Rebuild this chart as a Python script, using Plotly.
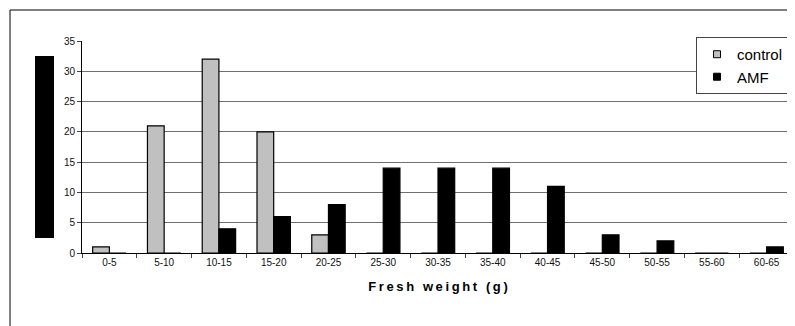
import plotly.graph_objects as go

categories = ["0-5", "5-10", "10-15", "15-20", "20-25", "25-30", "30-35",
              "35-40", "40-45", "45-50", "50-55", "55-60", "60-65"]
control = [1, 21, 32, 20, 3, 0, 0, 0, 0, 0, 0, 0, 0]
amf = [0, 0, 4, 6, 8, 14, 14, 14, 11, 3, 2, 0, 1]
y_ticks = [0, 5, 10, 15, 20, 25, 30, 35]
x_title = "Fresh weight (g)"

FONT = "Liberation Sans, Arial, sans-serif"
THIN = "\u2009"
spaced_title = THIN.join(list(x_title))

series = [("control", control, "#C0C0C0"), ("AMF", amf, "#000000")]

fig = go.Figure()
for name, vals, col in series:
    fig.add_trace(go.Bar(x=categories, y=vals, name=name, legendgroup=name, showlegend=False,
                         marker=dict(color=col, line=dict(color="#000000", width=1.2))))
for name, vals, col in series:
    # legend key only (small square like the original)
    fig.add_trace(go.Scatter(x=[None], y=[None], name=name, legendgroup=name, mode="markers",
                             marker=dict(symbol="square", size=7, color=col,
                                         line=dict(color="#000000", width=1))))

fig.update_layout(
    width=787, height=318,
    margin=dict(l=74, r=1, t=33, b=73),
    paper_bgcolor="white", plot_bgcolor="white",
    barmode="group", bargap=0.39, bargroupgap=0,
    font=dict(family=FONT, size=10, color="#111111"),
    showlegend=True,
    legend=dict(x=0.993, y=1.019, xanchor="right", yanchor="top",
                bgcolor="white", bordercolor="#444444", borderwidth=1,
                font=dict(family=FONT, size=15, color="#000000"),
                itemwidth=30, itemsizing="trace", tracegroupgap=0),
    xaxis=dict(type="category", tickson="boundaries", ticks="outside", ticklen=4,
               tickcolor="#444444", showline=True, linecolor="#000000", linewidth=1,
               showgrid=False,
               tickfont=dict(family=FONT, size=10, color="#111111"),
               title=dict(text="<b>" + spaced_title + "</b>",
                          font=dict(family=FONT, size=13, color="#000000"), standoff=14)),
    yaxis=dict(range=[0, 35], tickvals=y_ticks, ticks="outside", ticklen=4,
               tickcolor="#444444", showline=True, linecolor="#000000", linewidth=1,
               showgrid=True, gridcolor="#707070", gridwidth=1, zeroline=False,
               tickfont=dict(family=FONT, size=10, color="#111111")),
    shapes=[
        dict(type="rect", xref="paper", yref="paper", x0=-0.1011, x1=1.02, y0=-0.45, y1=1.1462,
             line=dict(color="#000000", width=1), fillcolor="rgba(0,0,0,0)", layer="below"),
        dict(type="rect", xref="paper", yref="paper", x0=-0.066, x1=-0.0393, y0=0.0708, y1=0.929,
             line=dict(width=0), fillcolor="#000000"),
        dict(type="line", xref="paper", yref="paper", x0=1, x1=1, y0=0, y1=1,
             line=dict(color="#808080", width=1)),
    ],
)

fig.write_html("out.html")
